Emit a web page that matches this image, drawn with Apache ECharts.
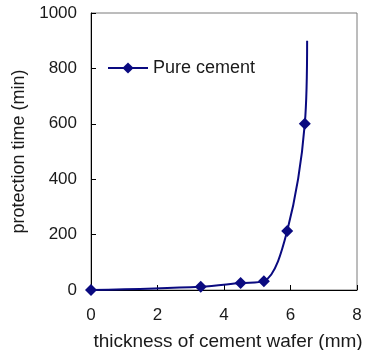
<!DOCTYPE html>
<html>
<head>
<meta charset="utf-8">
<script src="https://cdn.jsdelivr.net/npm/echarts@6/dist/echarts.min.js"></script>
<style>
  html, body { margin: 0; padding: 0; background: #fff; }
  #chart { width: 366px; height: 350px; }
</style>
</head>
<body>
<div id="chart"></div>
<script>
// Protection time against cement wafer thickness
const thickness = [0, 3.3, 4.5, 5.2, 5.9, 6.43, 6.5];
const protectionTime = [0, 12, 25, 32, 213, 600, 900];
const seriesName = 'Pure cement';
const xTicks = [0, 2, 4, 6, 8];
const yTicks = [0, 200, 400, 600, 800, 1000];

const font = 'Liberation Sans, Arial, Helvetica, sans-serif';
const navy = '#0a0a80';
const textColor = '#1a1a1a';

const points = thickness.map((x, i) => {
  const item = { value: [x, protectionTime[i]] };
  // the curve's end has no marker
  if (i === thickness.length - 1) item.symbol = 'none';
  return item;
});

const chart = echarts.init(document.getElementById('chart'), null, { renderer: 'canvas' });
chart.setOption({
  animation: false,
  backgroundColor: '#fff',
  grid: {
    left: 91, right: 9, top: 13, bottom: 60,
    outerBoundsMode: 'none', containLabel: false,
    show: true, borderColor: '#7a7a7a', borderWidth: 1, backgroundColor: 'transparent'
  },
  legend: {
    left: 107, top: 59, padding: 0,
    itemWidth: 40, itemHeight: 14, itemGap: 0,
    textStyle: { fontFamily: font, fontSize: 18, color: textColor },
    data: [{ name: seriesName }]
  },
  xAxis: {
    type: 'value',
    min: xTicks[0], max: xTicks[xTicks.length - 1], interval: 2,
    name: 'thickness of cement wafer (mm)',
    nameLocation: 'middle', nameGap: 42,
    nameTextStyle: { fontFamily: font, fontSize: 19, color: textColor, padding: [0, 0, 0, 8] },
    axisLine: { show: true, onZero: false, lineStyle: { color: '#000', width: 1 } },
    axisTick: { show: true, inside: true, length: 5, lineStyle: { color: '#000' } },
    axisLabel: { fontFamily: font, fontSize: 17, color: textColor, margin: 17, formatter: v => String(v) },
    splitLine: { show: false }
  },
  yAxis: {
    type: 'value',
    min: yTicks[0], max: yTicks[yTicks.length - 1], interval: 200,
    name: 'protection time (min)',
    nameLocation: 'middle', nameGap: 56,
    nameTextStyle: { fontFamily: font, fontSize: 18, color: textColor },
    axisLine: { show: true, onZero: false, lineStyle: { color: '#000', width: 1 } },
    axisTick: { show: true, inside: true, length: 5, lineStyle: { color: '#000' } },
    axisLabel: { fontFamily: font, fontSize: 17, color: textColor, margin: 14, formatter: v => String(v) },
    splitLine: { show: false }
  },
  series: [{
    name: seriesName,
    type: 'line',
    data: points,
    smooth: 0.35,
    clip: false,
    symbol: 'diamond',
    symbolSize: 12,
    lineStyle: { color: navy, width: 2 },
    itemStyle: { color: navy },
    z: 3
  }]
});
</script>
</body>
</html>
